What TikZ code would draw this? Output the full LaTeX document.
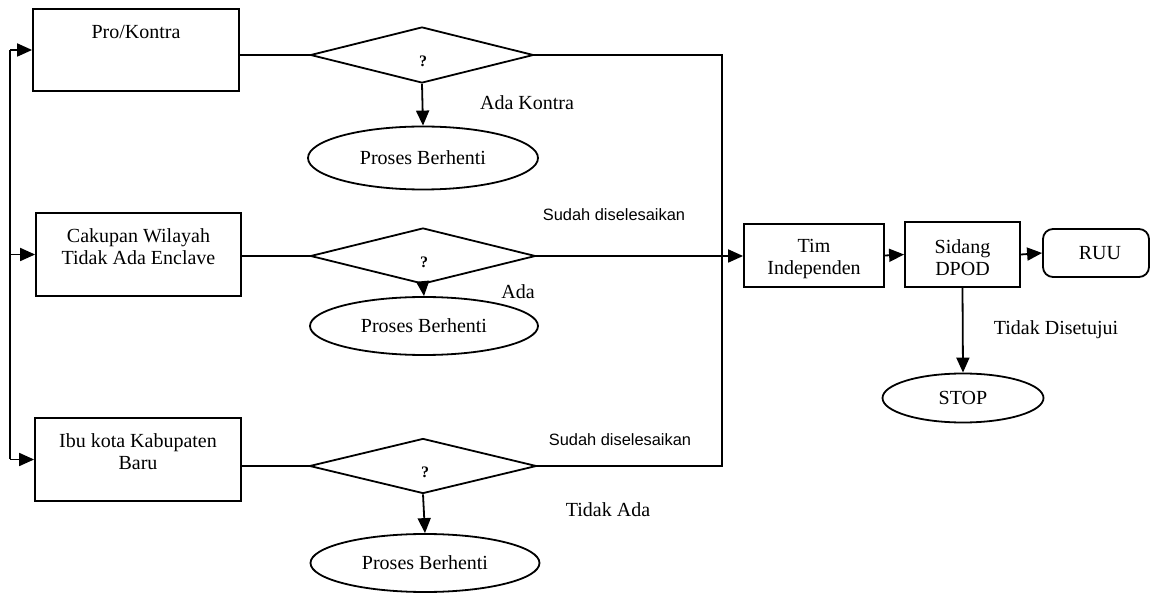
\documentclass[tikz,border=0pt]{standalone}
\usepackage{fontspec}
\setmainfont{Liberation Serif}
\newfontfamily\labsans{Liberation Sans}
\usetikzlibrary{shapes.geometric,arrows.meta}
\begin{document}
\begin{tikzpicture}[x=1pt,y=-1pt,
  every node/.style={font=\fontsize{20}{22}\selectfont},
  line/.style={line width=1.8pt},
  arr/.style={line width=1.8pt,-{Triangle[length=15pt,width=13pt]}},
  boxshape/.style={draw,line width=1.8pt,rectangle,inner sep=0pt},
  dec/.style={draw,line width=1.8pt,diamond,inner sep=0pt},
  term/.style={draw,line width=1.8pt,ellipse,inner sep=0pt},
  txt/.style={align=center,inner sep=0pt},
  sanslab/.style={font=\labsans\fontsize{16.4}{19}\selectfont,inner sep=0pt},
  lab/.style={inner sep=0pt}]
\useasboundingbox (0,0) rectangle (1152,593);
% left column boxes
\node[boxshape,minimum width=206pt,minimum height=82pt] (b1) at (136,50) {};
\node[txt] (t1) at (136,32) {Pro/Kontra};
\node[boxshape,minimum width=205pt,minimum height=83pt] (b2) at (138.5,254.5) {};
\node[txt] (t2) at (138.5,247) {Cakupan Wilayah\\Tidak Ada Enclave};
\node[boxshape,minimum width=206pt,minimum height=83pt] (b3) at (138,459.5) {};
\node[txt] (t3) at (138,452) {Ibu kota Kabupaten\\Baru};
% decisions
\node[dec,minimum width=223pt,minimum height=56pt] (d1) at (422,55) {};
\node[lab,font=\bfseries\fontsize{16}{18}\selectfont] (q1) at (423,61) {?};
\node[dec,minimum width=225pt,minimum height=56pt] (d2) at (423,256) {};
\node[lab,font=\bfseries\fontsize{16}{18}\selectfont] (q2) at (424,262) {?};
\node[dec,minimum width=227pt,minimum height=55pt] (d3) at (423,466) {};
\node[lab,font=\bfseries\fontsize{16}{18}\selectfont] (q3) at (425,472) {?};
% stop ellipses
\node[term,minimum width=230pt,minimum height=63pt] (e1) at (423,158) {Proses Berhenti};
\node[term,minimum width=228pt,minimum height=58pt] (e2) at (424,326) {Proses Berhenti};
\node[term,minimum width=229pt,minimum height=58pt] (e3) at (425,563) {Proses Berhenti};
% right side
\node[boxshape,minimum width=140pt,minimum height=63pt] (tim) at (814,255.5) {};
\node[txt] (ttim) at (814,259) {Tim\\Independen};
\node[boxshape,minimum width=115pt,minimum height=65pt] (dpod) at (962.5,254.5) {};
\node[txt] (tdpod) at (962.5,257.5) {Sidang\\DPOD};
\node[boxshape,rounded corners=10pt,minimum width=106pt,minimum height=48pt] (ruu) at (1096,253) {};
\node[txt] (truu) at (1100,253) {RUU};
\node[term,minimum width=161pt,minimum height=49pt] (stop) at (963,398) {STOP};
% labels
\node[lab] (l1) at (527,103) {Ada Kontra};
\node[sanslab] (l2) at (614,215) {Sudah diselesaikan};
\node[lab] (l3) at (518,292) {Ada};
\node[sanslab] (l4) at (620,440) {Sudah diselesaikan};
\node[lab] (l5) at (608,510) {Tidak Ada};
\node[lab] (l6) at (1056,330) {Tidak Disetujui};
% left feedback line
\coordinate (lt) at (10,50);
\coordinate (lb) at (10,459.5);
\draw[line] (lt) -- (lb);
\draw[arr] (lt) -- (b1.west);
\draw[arr] (10,254.5) -- (b2.west);
\draw[arr] (lb) -- (b3.west);
% box to decision
\draw[line] (b1.east |- d1.west) -- (d1.west);
\draw[line] (b2.east |- d2.west) -- (d2.west);
\draw[line] (b3.east |- d3.west) -- (d3.west);
% decision to stop
\draw[arr] (d1.south) -- (e1.north);
\draw[arr] (d2.south) -- (e2.north);
\draw[arr] (d3.south) -- (e3.north);
% right collector
\coordinate (rt) at (722,55);
\coordinate (rb) at (722,466);
\draw[line] (d1.east) -- (rt) -- (rb) -- (d3.east);
\draw[arr] (d2.east) -- (tim.west |- d2.east);
\draw[arr] (tim.east) -- (dpod.west);
\draw[arr] (dpod.east) -- (ruu.west);
\draw[arr] (dpod.south) -- (stop.north);
\end{tikzpicture}
\end{document}
